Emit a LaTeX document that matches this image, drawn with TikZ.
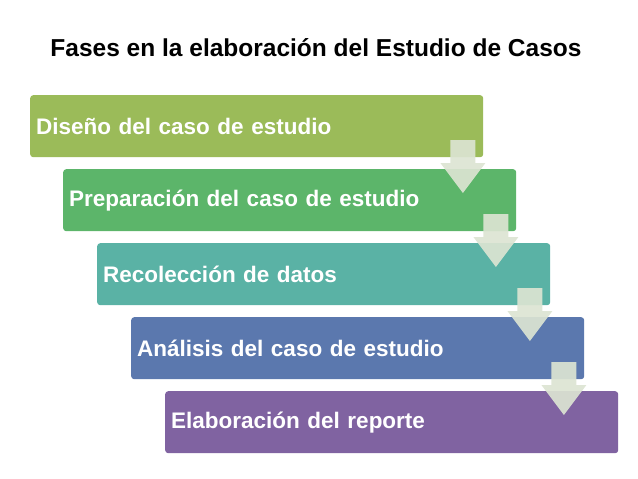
\documentclass[tikz,border=0pt]{standalone}
\usepackage{fontspec}
\setmainfont{Liberation Sans}
\usetikzlibrary{positioning}
\definecolor{faseA}{HTML}{9BBB59}
\definecolor{faseB}{HTML}{5CB56A}
\definecolor{faseC}{HTML}{5AB2A5}
\definecolor{faseD}{HTML}{5B78AE}
\definecolor{faseE}{HTML}{8063A1}
\definecolor{flecha}{HTML}{DCE4D2}
\begin{document}
\begin{tikzpicture}[
    x=1pt, y=-1pt,
    fase/.style={rounded corners=3pt, minimum width=453pt, minimum height=62pt,
        anchor=north west, text=white, font=\fontsize{22.5}{24}\selectfont\bfseries,
        align=left, text width=441pt, inner xsep=6pt},
    flecha/.style={fill=flecha, fill opacity=0.92, draw=none}
]
    \useasboundingbox (0,0) rectangle (638,479);

    % Title
    \node (titulo) at (316,48) {\fontsize{24.5}{26}\selectfont\bfseries Fases en la elaboración del Estudio de Casos};

    % Phases
    \node[fase, fill=faseA] (f1) at (30,95) {Diseño del caso de estudio};
    \node[fase, fill=faseB] (f2) at (63,169) {Preparación del caso de estudio};
    \node[fase, fill=faseC] (f3) at (97,243) {Recolección de datos};
    \node[fase, fill=faseD] (f4) at (131,317) {Análisis del caso de estudio};
    \node[fase, fill=faseE] (f5) at (165,391) {Elaboración del reporte};

    % Arrows
    \foreach \a in {f1,f2,f3,f4}{
        \fill[flecha] ([xshift=-33pt,yshift=-45pt]\a.north east)
            -- ++(25,0) -- ++(0,23) -- ++(10,0) -- ++(-22.5,30) -- ++(-22.5,-30)
            -- ++(10,0) -- cycle;
    }
\end{tikzpicture}
\end{document}
